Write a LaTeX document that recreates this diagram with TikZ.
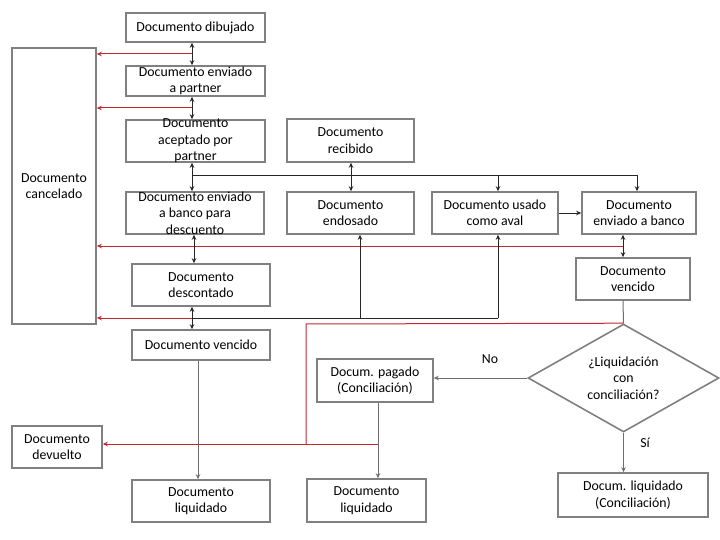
\documentclass[tikz,border=0pt]{standalone}
\usepackage{fontspec}
\setmainfont{Carlito}
\usetikzlibrary{shapes.geometric,arrows.meta}
\definecolor{boxgray}{RGB}{128,128,128}
\definecolor{lnred}{RGB}{192,40,50}
\definecolor{lngray}{RGB}{110,110,110}
\begin{document}
\begin{tikzpicture}[x=1pt,y=-1pt,
  box/.style={draw=boxgray, line width=1.6pt, fill=white, align=center, inner sep=0pt,
    font=\fontsize{13.8}{16.5}\selectfont, text=black},
  txt/.style={align=center, inner sep=0pt, font=\fontsize{13.8}{16.5}\selectfont, text=black},
  diam/.style={diamond, draw=boxgray, line width=1.6pt, fill=white, align=center, inner sep=0pt,
    shape aspect=1.77, minimum width=191, minimum height=108,
    font=\fontsize{13.8}{16.5}\selectfont, text=black},
  arr/.style={-{Stealth[length=5pt,width=4.5pt]}},
  dbl/.style={{Stealth[length=5pt,width=4.5pt]}-{Stealth[length=5pt,width=4.5pt]}},
  blk/.style={draw=black!85, line width=0.9pt},
  redl/.style={draw=lnred, line width=1pt},
  gry/.style={draw=lngray, line width=1pt}]
\path[fill=white] (0,0) rectangle (720,540);
\useasboundingbox (0,0) rectangle (720,540);

% boxes
\node[box, minimum width=139, minimum height=29] (dib) at (195.5,27.5) {Documento dibujado};
\node[box, minimum width=139, minimum height=30] (part) at (195.5,81) {Documento enviado\\a partner};
\node[box, minimum width=139, minimum height=42] (acep) at (195.5,141) {};
\node[txt] (acept) at (acep.center) {Documento\\aceptado por\\partner};
\node[box, minimum width=138, minimum height=42] (desv) at (195,213) {};
\node[txt] (desvt) at (desv.center) {Documento enviado\\a banco para\\descuento};
\node[box, minimum width=138, minimum height=42] (desc) at (201,285) {Documento\\descontado};
\node[box, minimum width=138, minimum height=30] (vencL) at (201,345) {Documento vencido};
\node[box, minimum width=138, minimum height=42] (liqL) at (201,501) {Documento\\liquidado};
\node[box, minimum width=90, minimum height=42] (devu) at (57,447) {Documento\\devuelto};
\node[box, minimum width=84, minimum height=276] (canc) at (54,186) {Documento\\cancelado};
\node[box, minimum width=127, minimum height=43] (reci) at (350.5,140.5) {Documento\\recibido};
\node[box, minimum width=127, minimum height=42] (endo) at (350.5,213) {Documento\\endosado};
\node[box, minimum width=126, minimum height=42] (aval) at (495,213) {Documento usado\\como aval};
\node[box, minimum width=114, minimum height=42] (banco) at (639,213) {Documento\\enviado a banco};
\node[box, minimum width=114, minimum height=42] (vencR) at (633,279) {Documento\\vencido};
\node[diam] (dec) at (623.5,378) {¿Liquidación\\con\\conciliación?};
\node[box, minimum width=116, minimum height=43] (pag) at (375,380.5) {Docum. pagado\\(Conciliación)};
\node[box, minimum width=119, minimum height=43] (liqM) at (366.5,500.5) {Documento\\liquidado};
\node[box, minimum width=150, minimum height=44] (liqC) at (633,495) {Docum. liquidado\\(Conciliación)};

% helper coordinates
\coordinate (cx) at (192,0);
\coordinate (cx2) at (194,0);
\coordinate (ex) at (351,0);
\coordinate (vx) at (623,0);
\coordinate (gx) at (198,0);
\coordinate (mx) at (378,0);

% upper chain
\draw[blk,dbl] (dib.south -| cx) -- (part.north -| cx);
\coordinate (r1) at (192,54);
\draw[redl,arr] (r1) -- (r1 -| canc.east);
\draw[blk,dbl] (part.south -| cx) -- (acep.north -| cx);
\coordinate (r2) at (192,108);
\draw[redl,arr] (r2) -- (r2 -| canc.east);
\draw[blk,dbl] (acep.south -| cx) -- (desv.north -| cx);
\coordinate (h1) at (192,175);
\coordinate (h3) at (498,175);
\coordinate (h2) at (637,175);
\draw[blk] (h1) -- (h2);
\draw[blk,arr] (h3) -- (h3 |- aval.north);
\draw[blk,arr] (h2) -- (h2 |- banco.north);
\draw[blk,dbl] (reci.south -| ex) -- (endo.north -| ex);
\draw[blk,arr] (aval) -- (banco);
\draw[blk,dbl] (banco.south -| vx) -- (vencR.north -| vx);
\coordinate (r3) at (623,246);
\draw[redl,arr] (r3) -- (r3 -| canc.east);
\draw[blk,dbl] (desv.south -| cx2) -- (desc.north -| cx2);
\draw[blk,dbl] (desc.south -| cx) -- (vencL.north -| cx);
\coordinate (r4) at (192,318);
\draw[redl,arr] (r4) -- (r4 -| canc.east);
\coordinate (b2) at (360,318);
\coordinate (b1) at (498,318);
\draw[blk] (r4) -- (b1);
\draw[blk,arr] (b1) -- (b1 |- aval.south);
\draw[blk,arr] (b2) -- (b2 |- endo.south);

% lower part
\draw[gry,arr] (vencL.south -| gx) -- (liqL.north -| gx);
\draw[gry] (vencR.south -| vx) -- (dec.north);
\coordinate (p1) at (306,324);
\coordinate (p2) at (306,444);
\coordinate (p3) at (378,444);
\draw[redl] (dec.north) -- (p1) -- (p2);
\draw[redl,arr] (p3) -- (p3 -| devu.east);
\draw[gry,arr] (pag.south -| mx) -- (liqM.north -| mx);
\draw[gry,arr] (dec.west) -- (dec.west -| pag.east);
\draw[gry,arr] (dec.south) -- (dec.south |- liqC.north);
\node[txt] (lno) at (490,359) {No};
\node[txt] (lsi) at (645,443) {Sí};
\end{tikzpicture}
\end{document}
